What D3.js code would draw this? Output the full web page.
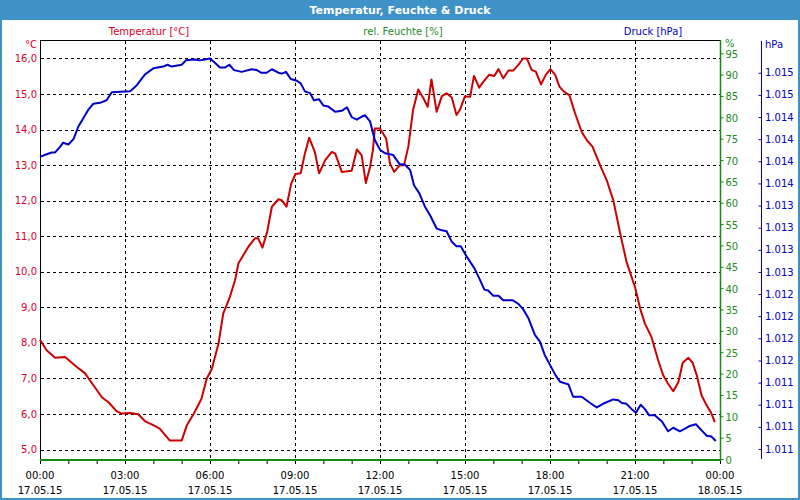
<!DOCTYPE html>
<html><head><meta charset="utf-8">
<script src="https://cdn.jsdelivr.net/npm/d3@7"></script>
<style>
body{margin:0;background:#fff}
svg{display:block}
text{font-family:"DejaVu Sans",Verdana,sans-serif;font-size:10px}
</style>
</head><body>
<svg id="chart" width="800" height="500"></svg>
<script>
const title = "Temperatur, Feuchte & Druck";
const seriesNames = ["Temperatur [°C]", "rel. Feuchte [%]", "Druck [hPa]"];
const units = ["°C", "%", "hPa"];
const timeTickHours = [0, 3, 6, 9, 12, 15, 18, 21, 24];
const timeTickLabels = ["00:00","03:00","06:00","09:00","12:00","15:00","18:00","21:00","00:00"];
const dateTickLabels = ["17.05.15","17.05.15","17.05.15","17.05.15","17.05.15","17.05.15","17.05.15","17.05.15","18.05.15"];
const tempTicks = [5, 6, 7, 8, 9, 10, 11, 12, 13, 14, 15, 16];
const humTicks = [0, 5, 10, 15, 20, 25, 30, 35, 40, 45, 50, 55, 60, 65, 70, 75, 80, 85, 90, 95];
const pressTicks = [1011, 1011.25, 1011.5, 1011.75, 1012, 1012.25, 1012.5, 1012.75, 1013, 1013.25, 1013.5, 1013.75, 1014, 1014.25, 1014.5, 1014.75, 1015, 1015.25];
const pressTickLabels = ["1.011","1.011","1.011","1.011","1.012","1.012","1.012","1.012","1.013","1.013","1.013","1.013","1.014","1.014","1.014","1.014","1.015","1.015"];

// minutes after 17.05.15 00:00
const tempMinutes = [0,14,32,53,78,95,106,131,145,162,
  173,191,208,222,244,254,275,300,311,325,
  342,353,364,378,388,402,413,420,441,455,
  462,471,481,491,505,512,522,532,541,552,
  561,570,582,591,604,618,625,639,660,671,
  681,690,699,705,709,720,733,741,750,762,
  771,780,790,801,812,821,829,840,851,861,
  872,882,889,900,911,919,930,939,951,962,
  971,981,992,1002,1013,1023,1031,1041,1050,1061,
  1071,1081,1091,1100,1110,1121,1133,1147,1158,1170,
  1186,1200,1214,1228,1242,1260,1271,1281,1295,1309,
  1320,1330,1341,1352,1361,1373,1382,1391,1401,1412,
  1422,1429];
const tempValues = [8.09,7.79,7.58,7.60,7.32,7.15,6.94,6.47,6.33,6.08,
  6.01,6.03,5.99,5.80,5.66,5.58,5.25,5.25,5.68,5.99,
  6.43,6.99,7.27,7.98,8.82,9.29,9.76,10.23,10.70,10.94,
  10.94,10.68,11.12,11.83,12.04,12.01,11.83,12.48,12.75,12.77,
  13.33,13.77,13.37,12.77,13.14,13.37,13.33,12.81,12.84,13.44,
  13.28,12.50,12.95,13.42,14.03,14.03,13.75,13.05,12.81,13.00,
  13.00,13.52,14.55,15.13,14.88,14.64,15.41,14.50,14.94,15.02,
  14.90,14.41,14.55,14.94,14.92,15.51,15.18,15.35,15.54,15.51,
  15.70,15.44,15.66,15.66,15.82,16.0,16.0,15.68,15.63,15.27,
  15.54,15.70,15.54,15.21,15.06,14.97,14.46,13.94,13.70,13.52,
  13.00,12.58,12.01,11.12,10.28,9.57,8.96,8.54,8.16,7.51,
  7.08,6.85,6.64,6.90,7.44,7.58,7.44,7.08,6.52,6.24,
  6.01,5.77];

const pressMinutes = [0,14,25,32,42,49,60,71,81,92,
  102,113,127,141,152,191,205,222,240,261,
  270,279,300,309,328,339,349,360,371,381,
  392,401,411,427,448,459,469,480,491,505,
  512,521,531,544,552,561,572,580,591,600,
  610,625,639,650,660,671,680,688,699,709,
  720,731,748,761,773,784,792,803,815,826,
  840,851,861,872,882,891,904,920,930,941,
  949,960,971,981,1001,1013,1023,1034,1048,1059,
  1069,1080,1091,1101,1119,1129,1147,1165,1179,1196,
  1214,1225,1232,1242,1253,1262,1272,1281,1290,1302,
  1317,1330,1341,1355,1366,1376,1389,1401,1412,1422,
  1431];
const pressValues = [1014.30,1014.33,1014.35,1014.35,1014.41,1014.46,1014.44,1014.50,1014.64,1014.74,
  1014.83,1014.90,1014.91,1014.94,1015.03,1015.04,1015.11,1015.23,1015.30,1015.32,
  1015.34,1015.32,1015.34,1015.39,1015.40,1015.39,1015.40,1015.41,1015.36,1015.31,
  1015.31,1015.34,1015.28,1015.26,1015.29,1015.28,1015.25,1015.25,1015.29,1015.25,
  1015.24,1015.26,1015.18,1015.16,1015.13,1015.04,1015.02,1014.94,1014.95,1014.88,
  1014.87,1014.81,1014.82,1014.86,1014.75,1014.72,1014.75,1014.77,1014.70,1014.49,
  1014.38,1014.34,1014.32,1014.22,1014.21,1014.15,1013.98,1013.89,1013.74,1013.64,
  1013.49,1013.47,1013.46,1013.34,1013.29,1013.29,1013.17,1013.04,1012.93,1012.80,
  1012.79,1012.73,1012.73,1012.68,1012.68,1012.64,1012.58,1012.48,1012.29,1012.21,
  1012.06,1011.95,1011.84,1011.76,1011.73,1011.59,1011.59,1011.52,1011.47,1011.52,
  1011.56,1011.55,1011.52,1011.51,1011.45,1011.41,1011.50,1011.45,1011.38,1011.38,
  1011.31,1011.20,1011.24,1011.20,1011.23,1011.26,1011.28,1011.21,1011.15,1011.14,
  1011.09];

const C = {
  bar: "#3f92c8", red: "#cc0000", redText: "#d8002a", green: "#138a13",
  greenText: "#1f8a1f", blue: "#0000cc", blueText: "#0000c8"
};
const L = 40, R = 720, T = 40, B = 459;
const t0 = new Date(2015, 4, 17, 0, 0);
const t1 = new Date(2015, 4, 18, 0, 0);
const minToDate = m => new Date(t0.getTime() + m * 60000);

const x = d3.scaleTime().domain([t0, t1]).range([L, R]);
const yT = d3.scaleLinear().domain([4.733, 16.52]).range([B, T]);
const yH = d3.scaleLinear().domain([0, 98.1]).range([B, T]);
const yP = d3.scaleLinear().domain([1010.887, 1015.62]).range([B, T]);

const loc = d3.formatLocale({decimal: ",", thousands: ".", grouping: [3], currency: ["", "€"]});
const fT = loc.format(".1f");

const svg = d3.select("#chart");

// frame & title bar
svg.append("rect").attr("x", 1).attr("y", 1).attr("width", 798).attr("height", 498)
  .attr("fill", "#fff").attr("stroke", C.bar).attr("stroke-width", 2);
svg.append("rect").attr("x", 0).attr("y", 0).attr("width", 800).attr("height", 20).attr("fill", C.bar);
svg.append("text").attr("x", 400).attr("y", 10).attr("dy", "0.36em").attr("text-anchor", "middle")
  .attr("fill", "#fff").attr("font-weight", "bold").style("font-size", "11px").text(title);

// series captions
const capX = [149, 403, 653];
const capCol = [C.redText, C.greenText, C.blueText];
seriesNames.forEach((s, i) => {
  svg.append("text").attr("x", capX[i]).attr("y", 31).attr("dy", "0.36em")
    .attr("text-anchor", "middle").attr("fill", capCol[i]).text(s);
});
svg.append("text").attr("x", 37).attr("y", 44).attr("dy", "0.36em").attr("text-anchor", "end").attr("fill", C.redText).text(units[0]);
svg.append("text").attr("x", 725).attr("y", 43).attr("dy", "0.36em").attr("fill", C.greenText).text(units[1]);
svg.append("text").attr("x", 765).attr("y", 44).attr("dy", "0.36em").attr("fill", C.blueText).text(units[2]);

// grid
const grid = svg.append("g").attr("stroke", "#000").attr("stroke-dasharray", "3,3").attr("stroke-width", 1);
tempTicks.forEach(v => {
  const yy = Math.round(yT(v)) + 0.5;
  grid.append("line").attr("x1", L + 1).attr("x2", R).attr("y1", yy).attr("y2", yy);
});
timeTickHours.slice(1, -1).forEach(h => {
  const xx = Math.round(x(minToDate(h * 60))) + 0.5;
  grid.append("line").attr("x1", xx).attr("x2", xx).attr("y1", T + 1).attr("y2", B);
});

// frame lines
svg.append("line").attr("x1", L).attr("x2", R).attr("y1", T + 0.5).attr("y2", T + 0.5).attr("stroke", "#000");
svg.append("line").attr("x1", L + 0.5).attr("x2", L + 0.5).attr("y1", T).attr("y2", B + 4).attr("stroke", "#000");

// data lines
const tempData = d3.zip(tempMinutes, tempValues);
const pressData = d3.zip(pressMinutes, pressValues);
const lineT = d3.line().x(d => x(minToDate(d[0]))).y(d => yT(d[1]));
const lineP = d3.line().x(d => x(minToDate(d[0]))).y(d => yP(d[1]));
svg.append("path").datum(tempData).attr("d", lineT).attr("fill", "none")
  .attr("stroke", C.red).attr("stroke-width", 2).attr("stroke-linejoin", "round");
svg.append("path").datum(pressData).attr("d", lineP).attr("fill", "none")
  .attr("stroke", C.blue).attr("stroke-width", 2).attr("stroke-linejoin", "round");

// left temperature axis labels
tempTicks.forEach(v => {
  svg.append("text").attr("x", 37).attr("y", yT(v)).attr("dy", "0.36em").attr("text-anchor", "end")
    .attr("fill", C.redText).text(fT(v));
});

// right humidity axis
const gH = svg.append("g").attr("transform", `translate(${R + 0.5},0)`)
  .call(d3.axisRight(yH).tickValues(humTicks).tickSize(3).tickPadding(2).tickFormat(d3.format("d")));
gH.select(".domain").remove();
gH.selectAll("line").attr("stroke", C.green);
gH.selectAll("text").attr("fill", C.greenText).attr("dy", "0.4em").style("font-size", "10px").style("font-family", '"DejaVu Sans",Verdana,sans-serif');
svg.append("line").attr("x1", R + 0.5).attr("x2", R + 0.5).attr("y1", T).attr("y2", B + 2).attr("stroke", C.green).attr("stroke-width", 1.5);

// pressure axis
const gP = svg.append("g").attr("transform", `translate(761.5,0)`)
  .call(d3.axisLeft(yP).tickValues(pressTicks).tickSize(3).tickFormat(""));
gP.select(".domain").remove();
gP.selectAll("line").attr("stroke", C.blue);
svg.append("line").attr("x1", 761.5).attr("x2", 761.5).attr("y1", 41).attr("y2", B).attr("stroke", C.blue);
pressTicks.forEach((v, i) => {
  svg.append("text").attr("x", 765).attr("y", yP(v)).attr("dy", "0.36em").attr("fill", C.blueText).text(pressTickLabels[i]);
});

// bottom time axis
const hourTicks = d3.range(0, 25).map(h => minToDate(h * 60));
const gX = svg.append("g").attr("transform", `translate(0,${B + 1})`)
  .call(d3.axisBottom(x).tickValues(hourTicks).tickSize(4).tickFormat(""));
gX.select(".domain").remove();
gX.selectAll("line").attr("stroke", "#000");
svg.append("line").attr("x1", L).attr("x2", R + 1).attr("y1", B + 1).attr("y2", B + 1)
  .attr("stroke", C.green).attr("stroke-width", 2);
timeTickHours.forEach((h, i) => {
  const xx = x(minToDate(h * 60));
  svg.append("text").attr("x", xx).attr("y", 475).attr("dy", "0.36em").attr("text-anchor", "middle").attr("fill", "#000").text(timeTickLabels[i]);
  svg.append("text").attr("x", xx).attr("y", 490).attr("dy", "0.36em").attr("text-anchor", "middle").attr("fill", "#000").text(dateTickLabels[i]);
});
</script>
</body></html>
